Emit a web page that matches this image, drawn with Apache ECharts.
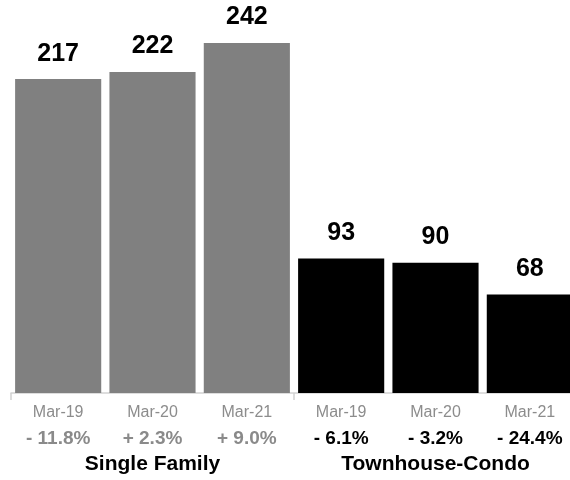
<!DOCTYPE html>
<html>
<head>
<meta charset="utf-8">
<script src="https://cdn.jsdelivr.net/npm/echarts@6/dist/echarts.min.js"></script>
<style>
  html, body { margin: 0; padding: 0; background: #ffffff; }
  #chart { width: 570px; height: 480px; }
</style>
</head>
<body>
<div id="chart"></div>
<script>
// Month labels under each bar
const months = ['Mar-19', 'Mar-20', 'Mar-21', 'Mar-19', 'Mar-20', 'Mar-21'];
// Property type of each bar
const barGroup = ['Single Family', 'Single Family', 'Single Family',
                  'Townhouse-Condo', 'Townhouse-Condo', 'Townhouse-Condo'];
// Sales counts
const sales = [217, 222, 242, 93, 90, 68];
// Year-over-year change shown under each month
const changes = ['- 11.8%', '+ 2.3%', '+ 9.0%', '- 6.1%', '- 3.2%', '- 24.4%'];
// Group titles
const groups = ['Single Family', 'Townhouse-Condo'];

const FONT = '"Liberation Sans", Arial, Helvetica, sans-serif';
const barColor = { 'Single Family': '#808080', 'Townhouse-Condo': '#000000' };
const changeColor = { 'Single Family': '#8a8a8a', 'Townhouse-Condo': '#000000' };

const chart = echarts.init(document.getElementById('chart'), null, { renderer: 'canvas' });

chart.setOption({
  animation: false,
  // the plot runs a little past the right edge, so the last bar is clipped
  grid: {
    left: 11, width: 566, top: 0, height: 395,
    containLabel: false, outerBoundsMode: 'none'
  },
  xAxis: [
    {
      type: 'category',
      position: 'bottom',
      data: months,
      boundaryGap: true,
      axisLine: { show: true, lineStyle: { color: '#d2d2d2', width: 1.5 } },
      axisTick: {
        show: true,
        length: 7,
        interval: (i) => i % 3 === 0,
        lineStyle: { color: '#d2d2d2', width: 1.5 }
      },
      axisLabel: {
        interval: 0,
        margin: 10,
        fontFamily: FONT,
        fontSize: 16,
        color: '#8c8c8c'
      }
    },
    {
      type: 'category',
      position: 'bottom',
      data: changes.map((c, i) => ({ value: c, textStyle: { color: changeColor[barGroup[i]] } })),
      boundaryGap: true,
      axisLine: { show: false },
      axisTick: { show: false },
      axisLabel: {
        interval: 0,
        margin: 34,
        fontFamily: FONT,
        fontSize: 19,
        fontWeight: 'bold'
      }
    },
    {
      type: 'category',
      position: 'bottom',
      data: groups,
      boundaryGap: true,
      axisLine: { show: false },
      axisTick: { show: false },
      axisLabel: {
        interval: 0,
        margin: 59,
        fontFamily: FONT,
        fontSize: 21,
        fontWeight: 'bold',
        color: '#000000'
      }
    }
  ],
  yAxis: {
    type: 'value',
    min: -1.4,
    max: 271.7,
    show: false,
    splitLine: { show: false }
  },
  series: [
    {
      type: 'bar',
      xAxisIndex: 0,
      data: sales,
      barCategoryGap: '8.7%',
      itemStyle: { color: (p) => barColor[barGroup[p.dataIndex]] },
      label: {
        show: true,
        position: 'top',
        distance: 13,
        fontFamily: FONT,
        fontSize: 25,
        fontWeight: 'bold',
        color: '#000000'
      }
    }
  ]
});
</script>
</body>
</html>
